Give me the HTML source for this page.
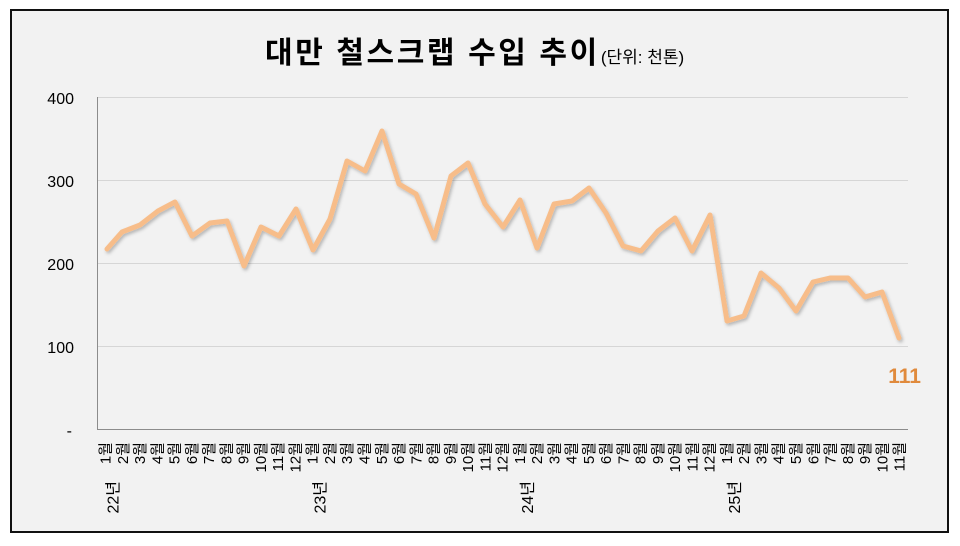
<!DOCTYPE html>
<html><head><meta charset="utf-8"><style>
html,body{margin:0;padding:0;background:#fff;}
svg{display:block;}
text{font-family:"Liberation Sans","Noto Sans CJK KR",sans-serif;}
</style></head><body>
<svg width="960" height="546" viewBox="0 0 960 546" xmlns="http://www.w3.org/2000/svg">
<defs><filter id="sh" x="-5%" y="-5%" width="110%" height="110%"><feDropShadow dx="1.5" dy="2" stdDeviation="1.5" flood-color="#000" flood-opacity="0.25"/></filter></defs>
<rect x="11" y="10" width="937" height="522" fill="#f2f2f2" stroke="#111" stroke-width="2"/>
<text x="265" y="63" font-size="30" font-weight="bold" fill="#000" letter-spacing="2.6" font-family="'Noto Sans CJK KR',sans-serif">대만 철스크랩 수입 추이<tspan font-size="17" font-weight="normal" letter-spacing="0" dx="1">(단위: 천톤)</tspan></text>
<g stroke="#d6d6d6" stroke-width="1">
<line x1="97" y1="97.5" x2="908" y2="97.5"/>
<line x1="97" y1="180.5" x2="908" y2="180.5"/>
<line x1="97" y1="263.5" x2="908" y2="263.5"/>
<line x1="97" y1="346.5" x2="908" y2="346.5"/>
</g>
<line x1="97.5" y1="97" x2="97.5" y2="429" stroke="#8c8c8c" stroke-width="1"/>
<line x1="97" y1="429.5" x2="908" y2="429.5" stroke="#8c8c8c" stroke-width="1"/>
<g font-size="16" fill="#000" text-anchor="end">
<text x="74" y="104">400</text>
<text x="74" y="187">300</text>
<text x="74" y="270">200</text>
<text x="74" y="353">100</text>
<text x="72" y="436">-</text>
</g>
<polyline filter="url(#sh)" fill="none" stroke="#f7bd8a" stroke-width="5" stroke-linejoin="round" stroke-linecap="round"
points="107,249 122,232 140,225 158,211 175,202 192,236 210,223 227,221 244,266 261,227 279,236 296,209 313,250 330,219 347,161 365,171 382,131 399,184 416,194 434,238 451,176 468,163 485,204 503,227 520,200 537,248 554,204 572,201 589,188 606,213 623,246 641,251 658,231 675,218 692,251 710,215 727,321 744,316 761,273 779,288 796,311 813,282 830,278 848,278 865,297 882,292 899,338"/>
<text x="921" y="383" font-size="21" font-weight="bold" fill="#e08a3c" text-anchor="end">111</text>
<g id="months" font-size="15" fill="#000" text-anchor="end" font-family="'Noto Sans CJK KR',sans-serif"></g>
<g id="years" font-size="16" fill="#000" text-anchor="end" font-family="'Noto Sans CJK KR',sans-serif"></g>
</svg>
<script>
var g=document.getElementById('months'),y=document.getElementById('years');
var ns='http://www.w3.org/2000/svg';
for(var i=0;i<47;i++){
 var x=105.6+i*17.26;var m=(i%12)+1;
 var t=document.createElementNS(ns,'text');
 t.setAttribute('transform','translate('+(x+5)+',442) rotate(-90)');
 t.textContent=m+'월';g.appendChild(t);
 if(m==1){var yt=document.createElementNS(ns,'text');
 yt.setAttribute('transform','translate('+(x+13)+',481) rotate(-90)');
 yt.textContent=(22+i/12)+'년';y.appendChild(yt);}
}
</script>
</body></html>
